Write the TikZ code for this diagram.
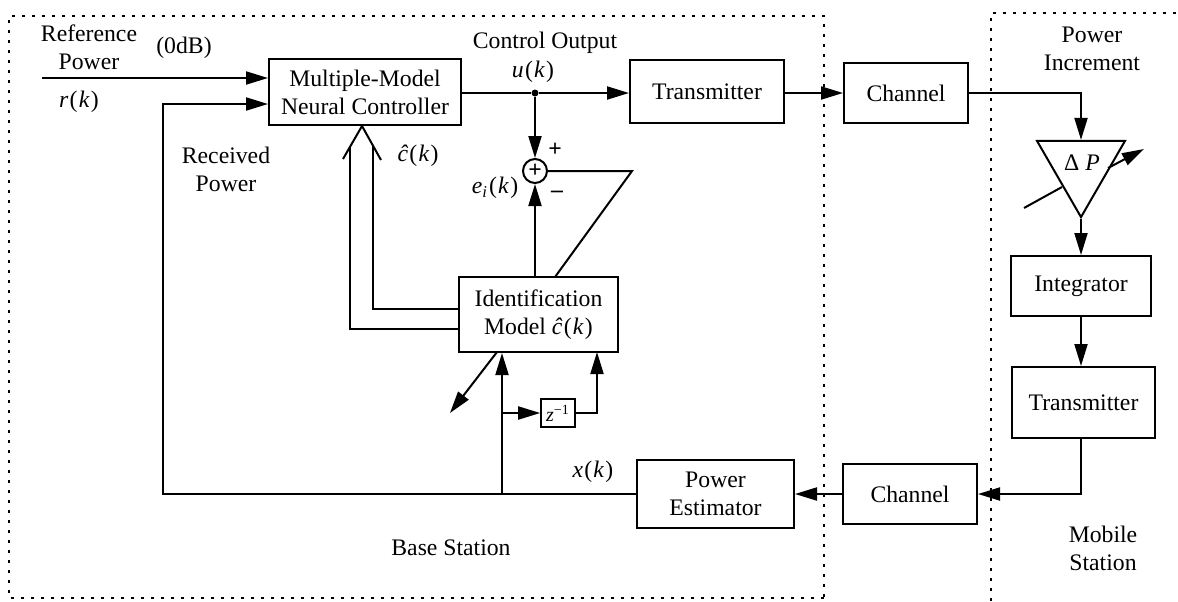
\documentclass[tikz,border=0pt]{standalone}
\usepackage{fontspec}
\setmainfont{Liberation Serif}
\usetikzlibrary{arrows.meta,shapes.geometric}
\newcommand{\sigk}[1]{\textit{#1}\kern.6pt(\kern.6pt\textit{k}\kern.6pt)}
\begin{document}
\begin{tikzpicture}[x=0.5pt,y=-0.5pt,
    txt/.style={font=\fontsize{11.85}{14}\selectfont,align=center,inner sep=0pt},
    block/.style={txt,draw,line width=1pt},
    link/.style={line width=1pt},
    arr/.style={link,-{Triangle[length=11pt,width=6.5pt]}},
    station/.style={line width=1pt,dash pattern=on 1.5pt off 3.5pt}]
    \useasboundingbox (0,0) rectangle (1178,601);
    % stations
    \draw[station] (824,598) -- (9,598) -- (9,16) -- (824,16) -- (824,598);
    \draw[station] (991,601) -- (991,13) -- (1178,13);
    % blocks
    \node[block,minimum width=96pt,minimum height=33pt] (ctrl) at (365,92) {Multiple-Model\\Neural Controller};
    \node[block,minimum width=77pt,minimum height=31.5pt] (txa) at (707,91.5) {Transmitter};
    \node[block,minimum width=62pt,minimum height=30pt] (chana) at (906,93) {Channel};
    \node[block,minimum width=79.5pt,minimum height=37.5pt] (ident) at (538.5,314.5) {Identification\\Model \sigk{\^{c}}};
    \node[block,minimum width=17pt,minimum height=14pt,line width=0.8pt] (delay) at (558,413) {\fontsize{10}{10}\selectfont\textit{z}\textsuperscript{−1}};
    \node[block,minimum width=78.5pt,minimum height=34pt] (est) at (715.5,494) {Power\\Estimator};
    \node[block,minimum width=67pt,minimum height=30pt] (chanb) at (910,494) {Channel};
    \node[block,minimum width=70pt,minimum height=30pt] (integ) at (1081,286) {Integrator};
    \node[block,minimum width=71.5pt,minimum height=35.5pt] (txb) at (1083.5,402.5) {Transmitter};
    \node[draw,line width=1pt,inner sep=0pt,regular polygon,regular polygon sides=3,shape border rotate=180,minimum size=50.8pt] (gain) at (1081,166.3) {};
    \node[txt,draw,circle,line width=1pt,minimum size=12pt] (sum) at (535,171) {\textbf{+}};
    \node[circle,fill,inner sep=0pt,minimum size=3.5pt] (tap) at (535,93) {};
    % free ends
    \coordinate (refin) at (42,78);
    \coordinate (fbcorner) at (163,104);
    \coordinate (upjoin) at (502,494);
    \coordinate (zjoin) at (502,413);
    \coordinate (zup) at (597,352);
    \coordinate (idout) at (497,352);
    \coordinate (idend) at (450,413);
    \coordinate (errbend) at (632,171);
    \coordinate (errfoot) at (555,277);
    \coordinate (outlow) at (350,329);
    \coordinate (outtop) at (350,147);
    \coordinate (inlow) at (373,309);
    \coordinate (intop) at (373,146);
    \coordinate (apex) at (362,126);
    \coordinate (chevl) at (343,159);
    \coordinate (chevr) at (381,160);
    \coordinate (gaina) at (1108,168);
    \coordinate (gainb) at (1144,149);
    \coordinate (stuba) at (1024,208);
    \coordinate (stubb) at (1062,187);
    % connectors
    \draw[arr] (refin) -- (refin -| ctrl.west);
    \draw[arr] (est.west) -| (fbcorner) -- (fbcorner -| ctrl.west);
    \draw[link] (ctrl.east |- tap) -- (tap);
    \draw[arr] (tap) -- (tap -| txa.west);
    \draw[arr] (tap) -- (sum.north);
    \draw[arr] (sum |- ident.north) -- (sum.south);
    \draw[link] (sum.east) -- (errbend) -- (errfoot);
    \draw[arr] (txa.east |- chana.west) -- (chana.west);
    \draw[arr] (chana.east) -| (gain.north);
    \draw[arr] (gain.south) -- (gain.south |- integ.north);
    \draw[arr] (integ.south -| gain.south) -- (txb.north -| gain.south);
    \draw[arr] (txb.south -| gain.south) |- (chanb.east);
    \draw[arr] (chanb.west) -- (est.east);
    \draw[arr] (upjoin) -- (upjoin |- ident.south);
    \draw[arr] (zjoin) -- (delay.west);
    \draw[arr] (delay.east) -| (zup);
    \draw[arr] (idout) -- (idend);
    \draw[link] (outlow -| ident.west) -- (outlow) -- (outtop);
    \draw[link] (inlow -| ident.west) -- (inlow) -- (intop);
    \draw[link] (chevl) -- (apex) -- (chevr);
    \draw[arr] (gaina) -- (gainb);
    \draw[link] (stuba) -- (stubb);
    % labels
    \node[txt] (reflabel) at (89,47) {Reference\\Power};
    \node[txt] (dblabel) at (184,48) {(0dB)};
    \node[txt] (rlabel) at (79,102) {\sigk{r}};
    \node[txt] (reclabel) at (226,169) {Received\\Power};
    \node[txt] (outlabel) at (545,43) {Control Output};
    \node[txt] (ulabel) at (533,72) {\sigk{u}};
    \node[txt] (clabel) at (418,156) {\sigk{\^{c}}};
    \node[txt] (elabel) at (495,188) {\textit{e}\textsubscript{\textit{i}}\kern.6pt(\kern.6pt\textit{k}\kern.6pt)};
    \node[txt] (pluslabel) at (555,150) {\textbf{+}};
    \node[txt] (minuslabel) at (557,194) {\textbf{–}};
    \node[txt] (xlabel) at (593,472) {\sigk{x}};
    \node[txt] (baselabel) at (451,548) {Base Station};
    \node[txt] (inclabel) at (1092,49) {Power\\Increment};
    \node[txt] (moblabel) at (1103,548) {Mobile\\Station};
    \node[txt] (gainlabel) at (1082,163) {Δ \textit{P}};
\end{tikzpicture}
\end{document}
